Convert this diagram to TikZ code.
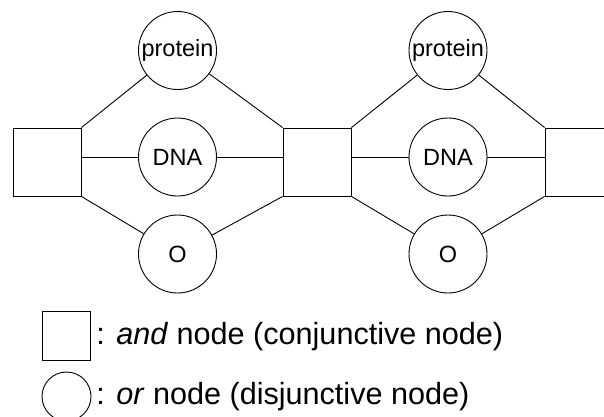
\documentclass[tikz,border=0pt]{standalone}
\usepackage{fontspec}
\setmainfont{Liberation Sans}
\begin{document}
\begin{tikzpicture}[x=1pt,y=-1pt,line width=0.9pt,
  andnode/.style={draw,rectangle,minimum size=68pt,inner sep=0pt},
  ornode/.style={draw,circle,minimum size=78pt,inner sep=0pt,font=\fontsize{23.5}{28}\selectfont},
  legtext/.style={anchor=west,inner sep=0pt,font=\fontsize{30.6}{36}\selectfont},
  link/.style={draw}]
\useasboundingbox (0,0) rectangle (604,416);
\clip (0,0) rectangle (604,416);

% and nodes
\node[andnode] (a1) at (47,162) {};
\node[andnode] (a2) at (317,162) {};
\node[andnode] (a3) at (579,162) {};

% or nodes, first stage
\node[ornode] (p1) at (177.5,50.5) {protein};
\node[ornode] (d1) at (177.5,157) {DNA};
\node[ornode] (o1) at (177.5,254) {O};

% or nodes, second stage
\node[ornode] (p2) at (448,50.5) {protein};
\node[ornode] (d2) at (448,157) {DNA};
\node[ornode] (o2) at (448,254) {O};

% connectors
\draw[link] (a1.north east) -- (p1);
\draw[link] (p1) -- (a2.north west);
\draw[link] (a1.east |- d1) -- (d1);
\draw[link] (d1) -- (a2.west |- d1);
\draw[link] (a1.south east) -- (o1);
\draw[link] (o1) -- (a2.south west);

\draw[link] (a2.north east) -- (p2);
\draw[link] (p2) -- (a3.north west);
\draw[link] (a2.east |- d2) -- (d2);
\draw[link] (d2) -- (a3.west |- d2);
\draw[link] (a2.south east) -- (o2);
\draw[link] (o2) -- (a3.south west);

% legend
\node[draw,rectangle,minimum size=48.5pt,inner sep=0pt] (la) at (66.5,336) {};
\node[legtext] (ta) at (96,337) {: \textit{and} node (conjunctive node)};
\node[draw,circle,minimum size=49pt,inner sep=0pt] (lo) at (66.5,396.5) {};
\node[legtext] (to) at (96,397) {: \textit{or} node (disjunctive node)};
\end{tikzpicture}
\end{document}
